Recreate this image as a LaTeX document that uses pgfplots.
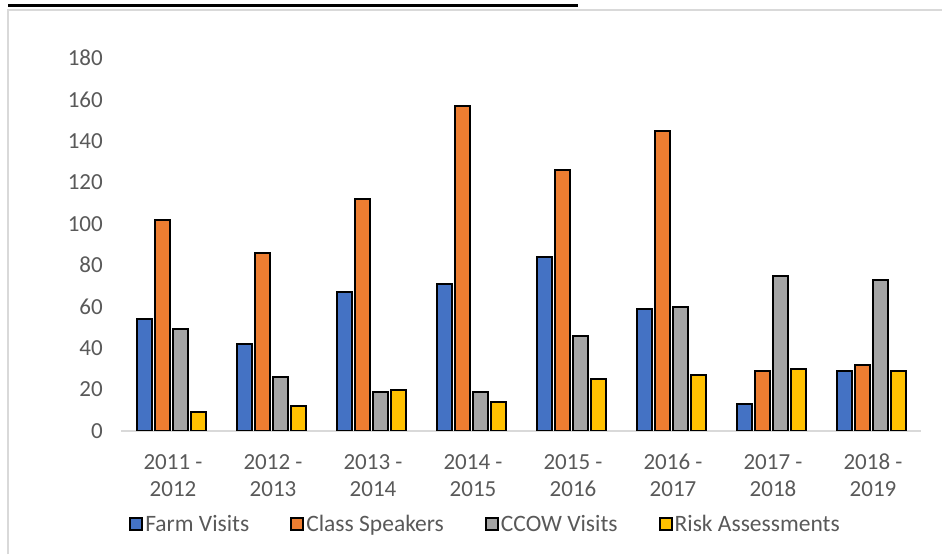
\documentclass[border=0pt]{standalone}
\usepackage{pgfplots}
\pgfplotsset{compat=1.18}
\usepackage{fontspec}
\setmainfont{Carlito}
\definecolor{cBlue}{HTML}{4472C4}
\definecolor{cOrange}{HTML}{ED7D31}
\definecolor{cGray}{HTML}{A5A5A5}
\definecolor{cYellow}{HTML}{FFC000}
\definecolor{txt}{HTML}{595959}
\definecolor{lgray}{HTML}{D9D9D9}
\begin{document}
\begin{tikzpicture}
\useasboundingbox (0pt,0pt) rectangle (942pt,554pt);
\draw[lgray, line width=1.5pt] (8pt,0pt) -- (8pt,544pt) -- (942pt,544pt);
\fill[black] (8pt,547pt) rectangle (578pt,550pt);
\begin{axis}[
  at={(121pt,123pt)}, anchor=south west,
  scale only axis, width=800pt, height=373pt,
  ybar=3pt, bar width=15pt,
  xmin=-0.5, xmax=7.5, ymin=0, ymax=180,
  ytick={0,20,...,180},
  xtick={0,...,7},
  xticklabels={{2011 -\\2012},{2012 -\\2013},{2013 -\\2014},{2014 -\\2015},{2015 -\\2016},{2016 -\\2017},{2017 -\\2018},{2018 -\\2019}},
  axis x line*=bottom, axis y line*=left,
  x axis line style={lgray, line width=1.2pt, -},
  y axis line style={draw=none},
  major tick length=0pt,
  /pgf/number format/assume math mode=true,
  tick label style={text=txt, font=\fontsize{23}{27}\selectfont},
  xticklabel style={align=center, inner sep=0pt, anchor=north, yshift=-23pt, xshift=2pt},
  yticklabel style={inner sep=0pt, anchor=east, xshift=-18pt},
  ytick style={draw=none}, xtick style={draw=none},
  legend columns=4,
  legend style={at={(0.4556,-0.2493)}, anchor=center, draw=none, fill=none,
    font=\fontsize{23.5}{28}\selectfont, text=txt,
    /tikz/every even column/.append style={column sep=39pt}},
  legend image code/.code={\draw[#1, draw=black, line width=2pt] (0pt,-6pt) rectangle (12pt,6pt);},
]
\addplot[fill=cBlue, draw=black, line width=2pt] coordinates {(0,54) (1,42) (2,67) (3,71) (4,84) (5,59) (6,13) (7,29)};
\addplot[fill=cOrange, draw=black, line width=2pt] coordinates {(0,102) (1,86) (2,112) (3,157) (4,126) (5,145) (6,29) (7,32)};
\addplot[fill=cGray, draw=black, line width=2pt] coordinates {(0,49) (1,26) (2,19) (3,19) (4,46) (5,60) (6,75) (7,73)};
\addplot[fill=cYellow, draw=black, line width=2pt] coordinates {(0,9) (1,12) (2,20) (3,14) (4,25) (5,27) (6,30) (7,29)};
\legend{Farm Visits, Class Speakers, CCOW Visits, Risk Assessments}
\end{axis}
\end{tikzpicture}
\end{document}
